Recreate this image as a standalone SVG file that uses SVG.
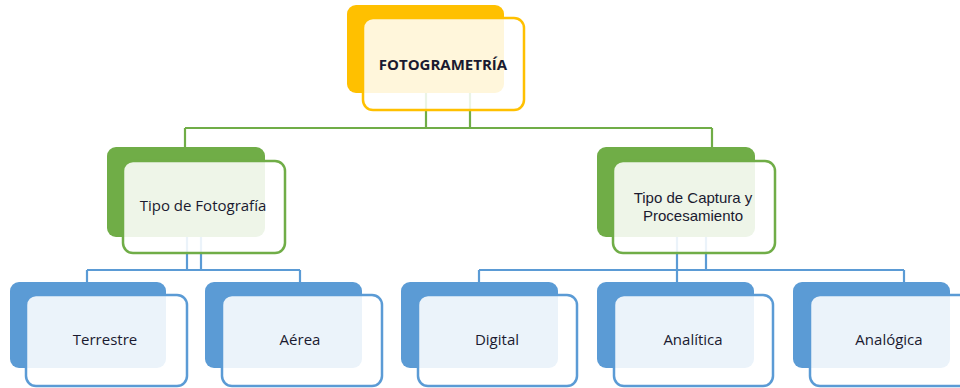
<svg xmlns="http://www.w3.org/2000/svg" width="960" height="388" viewBox="0 0 960 388">
<style>
text{font-family:"Open Sans","Liberation Sans",sans-serif;font-size:15px;fill:#1a1a30;text-anchor:middle}
text.t2{font-family:"Liberation Sans",Arial,sans-serif;font-size:15px}
.b{font-weight:bold}
.yb{fill:#FFC000}
.yf{fill:#FFFFFF;fill-opacity:0.86;stroke:#FFC000;stroke-width:2.5}
.gb{fill:#70AD47}
.gf{fill:#FFFFFF;fill-opacity:0.88;stroke:#70AD47;stroke-width:2.5}
.bb{fill:#5B9BD5}
.bf{fill:#FFFFFF;fill-opacity:0.88;stroke:#5B9BD5;stroke-width:2.5}
.cg{fill:none;stroke:#70AD47;stroke-width:2.2}
.cb{fill:none;stroke:#5B9BD5;stroke-width:2.2}
</style>
<rect width="960" height="388" fill="#FFFFFF"/>
<g id="backs">
<rect class="yb" x="347" y="5" width="157" height="88" rx="9"/>
<rect class="gb" x="107" y="147" width="158" height="90" rx="9"/>
<rect class="gb" x="597" y="147" width="158" height="90" rx="9"/>
<rect class="bb" x="10" y="282" width="156" height="86" rx="9"/>
<rect class="bb" x="205" y="282" width="157" height="86" rx="9"/>
<rect class="bb" x="401" y="282" width="157" height="86" rx="9"/>
<rect class="bb" x="597" y="282" width="157" height="86" rx="9"/>
<rect class="bb" x="793" y="282" width="157" height="86" rx="9"/>
</g>
<g id="connectors">
<path class="cg" d="M426 93V128M470 93V128M185 128H712M185 128V147M712 128V147"/>
<path class="cb" d="M187 237V270M201 237V270M87 270H300M87 270V282M300 270V282"/>
<path class="cb" d="M677 237V282M706 237V270M479 270H904M479 270V282M904 270V282"/>
</g>
<g id="n-fotogrametria">
<rect class="yf" x="363" y="18" width="161" height="92" rx="10"/>
<text class="b" x="443" y="70">FOTOGRAMETRÍA</text>
</g>
<g id="n-tipo-fotografia">
<rect class="gf" x="123" y="161" width="162" height="92" rx="10"/>
<text x="203" y="211">Tipo de Fotografía</text>
</g>
<g id="n-tipo-captura">
<rect class="gf" x="613" y="161" width="162" height="92" rx="10"/>
<text class="t2" x="693" y="203">Tipo de Captura y</text>
<text class="t2" x="693" y="221">Procesamiento</text>
</g>
<g id="n-terrestre">
<rect class="bf" x="26" y="295" width="161" height="91" rx="10"/>
<text x="105" y="345">Terrestre</text>
</g>
<g id="n-aerea">
<rect class="bf" x="222" y="295" width="160" height="91" rx="10"/>
<text x="300" y="345">Aérea</text>
</g>
<g id="n-digital">
<rect class="bf" x="418" y="295" width="159" height="91" rx="10"/>
<text x="497" y="345">Digital</text>
</g>
<g id="n-analitica">
<rect class="bf" x="614" y="295" width="159" height="91" rx="10"/>
<text x="693" y="345">Analítica</text>
</g>
<g id="n-analogica">
<rect class="bf" x="810" y="295" width="160" height="91" rx="10"/>
<text x="889" y="345">Analógica</text>
</g>
</svg>
